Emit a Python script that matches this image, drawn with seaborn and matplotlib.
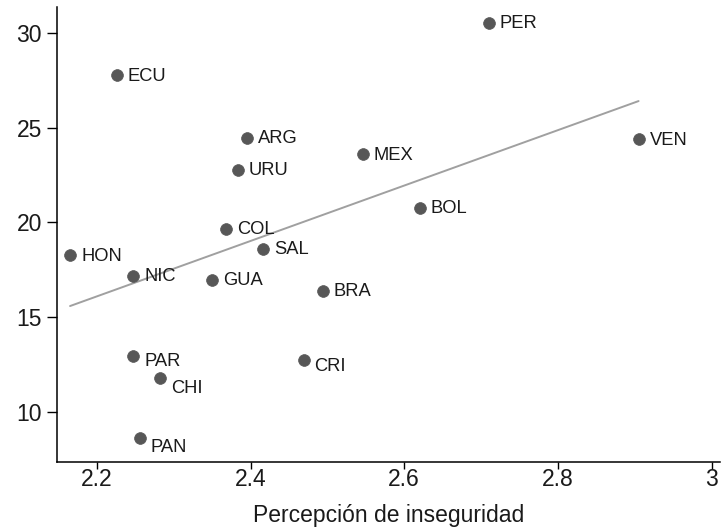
import matplotlib
matplotlib.use("Agg")
import matplotlib.pyplot as plt
import seaborn as sns
import pandas as pd

countries = ["PER", "ECU", "ARG", "URU", "MEX", "VEN", "BOL", "COL", "SAL",
             "HON", "NIC", "GUA", "BRA", "PAR", "CHI", "CRI", "PAN"]
percepcion = [2.710, 2.226, 2.395, 2.383, 2.546, 2.905, 2.620, 2.368, 2.416,
              2.165, 2.247, 2.350, 2.494, 2.247, 2.282, 2.469, 2.256]
valor = [30.53, 27.78, 24.46, 22.77, 23.60, 24.40, 20.77, 19.66, 18.60,
         18.28, 17.18, 16.97, 16.39, 12.95, 11.79, 12.74, 8.63]
x_ticks = [2.2, 2.4, 2.6, 2.8, 3.0]
x_tick_labels = ["2.2", "2.4", "2.6", "2.8", "3"]
y_ticks = [10, 15, 20, 25, 30]

# label offsets in pixels (dx, dy downward)
label_offsets = {"PAR": (11, 5), "CHI": (11, 10), "PAN": (11, 10), "CRI": (11, 6)}

df = pd.DataFrame({"country": countries, "x": percepcion, "y": valor})

sns.set_style("white")
plt.rcParams['font.family'] = ['Liberation Sans', 'DejaVu Sans']

fig = plt.figure(figsize=(7.21, 5.31), dpi=100)
ax = fig.add_axes([57/721, 1 - 462/531, (720 - 57)/721, (462 - 7)/531])

sns.regplot(data=df, x="x", y="y", scatter=False, ci=None, ax=ax,
            line_kws=dict(color="#a0a0a0", lw=1.4))
sns.scatterplot(data=df, x="x", y="y", ax=ax, s=72, color="#575757",
                edgecolor="#575757", linewidth=0.5, zorder=3)

for c, xv, yv in zip(countries, percepcion, valor):
    dx, dy = label_offsets.get(c, (11, 1))
    ax.annotate(c, (xv, yv), xytext=(dx * 0.72, -dy * 0.72),
                textcoords="offset points", ha="left", va="center",
                fontsize=13.2, color="#1a1a1a")

ax.set_xlim(2.148, 3.011)
ax.set_ylim(7.36, 31.37)
ax.set_xticks(x_ticks)
ax.set_xticklabels(x_tick_labels)
ax.set_yticks(y_ticks)
ax.set_xlabel("Percepción de inseguridad", fontsize=16.5, color="#1a1a1a", labelpad=10)
ax.set_ylabel("")

for s in ["top", "right"]:
    ax.spines[s].set_visible(False)
for s in ["left", "bottom"]:
    ax.spines[s].set_color("black")
    ax.spines[s].set_linewidth(1.1)

ax.tick_params(axis="x", which="major", direction="out", length=5,
               width=1, color="black", labelsize=16.5, labelcolor="#1a1a1a",
               bottom=True, pad=-1)
ax.tick_params(axis="y", which="major", direction="out", length=7.2,
               width=1, color="black", labelsize=16.5, labelcolor="#1a1a1a",
               left=True, pad=3.6)

fig.savefig("out.png", dpi=100)
